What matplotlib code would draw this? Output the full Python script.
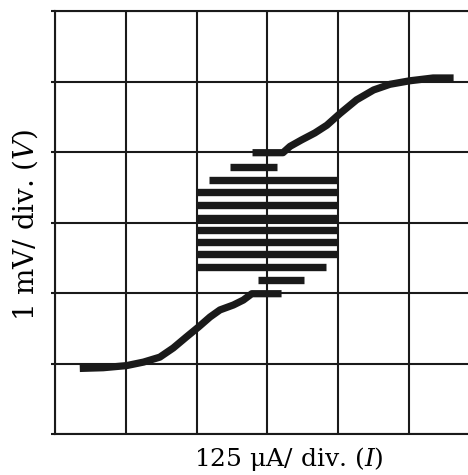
import matplotlib.pyplot as plt

# Kurve (in Teilstrichen / div.)
lower_x = [0.35, 0.68, 1.01, 1.25, 1.48, 1.67, 1.86, 2.03, 2.19, 2.33, 2.52, 2.66, 2.78, 3.20]
lower_y = [0.93, 0.94, 0.97, 1.02, 1.09, 1.22, 1.38, 1.52, 1.66, 1.76, 1.83, 1.90, 1.99, 1.99]
upper_x = [2.79, 3.22, 3.32, 3.48, 3.67, 3.84, 4.03, 4.26, 4.50, 4.73, 5.01, 5.34, 5.63]
upper_y = [3.99, 3.99, 4.08, 4.17, 4.27, 4.38, 4.55, 4.74, 4.88, 4.96, 5.01, 5.05, 5.05]

# horizontale Balken (Sprünge)
bar_y = [3.79, 3.60, 3.43, 3.25, 3.07, 2.90, 2.72, 2.55, 2.37, 2.19]
bar_x0 = [2.47, 2.18, 2.00, 2.00, 2.00, 2.00, 2.00, 2.00, 1.99, 2.87]
bar_x1 = [3.14, 4.00, 4.00, 4.00, 4.00, 4.00, 4.00, 4.00, 3.83, 3.52]

ink = "#1a1a1a"
plt.rcParams["mathtext.fontset"] = "custom"
plt.rcParams["mathtext.it"] = "DejaVu Serif:italic"
plt.rcParams["mathtext.rm"] = "DejaVu Serif"

fig = plt.figure(figsize=(4.68, 4.75), dpi=100)
ax = fig.add_axes([55 / 468, 41 / 475, 1 - 55 / 468, 423 / 475])

ax.set_xlim(0, 413 / 70.8)
ax.set_ylim(0, 6)
ax.set_xticks(range(0, 6))
ax.set_yticks(range(0, 7))
ax.grid(True, color=ink, lw=1.5)
ax.set_axisbelow(True)
ax.tick_params(axis="x", length=0, labelbottom=False)
ax.tick_params(axis="y", length=3, width=1.5, color=ink, labelleft=False)
for side in ["left", "top", "bottom"]:
    ax.spines[side].set_linewidth(1.5)
    ax.spines[side].set_color(ink)
ax.spines["right"].set_visible(False)

ax.plot(lower_x, lower_y, color=ink, lw=5.2, solid_capstyle="butt", solid_joinstyle="round")
ax.plot(upper_x, upper_y, color=ink, lw=5.2, solid_capstyle="butt", solid_joinstyle="round")
ax.hlines(bar_y, bar_x0, bar_x1, color=ink, lw=5.3, capstyle="butt")

ax.set_xlabel("125 μA/ div. ($\\mathit{I}$)", family="DejaVu Serif", fontsize=18)
ax.set_ylabel("1 mV/ div. ($\\mathit{V}$)", family="DejaVu Serif", fontsize=20)
ax.xaxis.set_label_coords(0.567, -0.027)
ax.yaxis.set_label_coords(-0.036, 0.494)

fig.savefig("out.png", dpi=100)
